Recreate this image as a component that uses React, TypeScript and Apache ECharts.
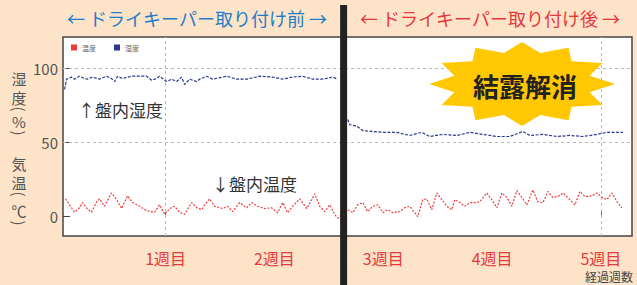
import React, { useEffect, useRef } from 'react';
import * as echarts from 'echarts';

// Temperature (°C) inside the panel, x = elapsed days
const TEMP_DAYS = [
  0.56, 0.82, 1.14, 1.46, 1.66, 1.98, 2.24, 2.56, 2.75, 3.07, 3.52, 3.85, 4.17, 4.55, 4.88, 5.33, 5.78, 6.29, 6.61, 6.94,
  7.26, 7.58, 7.9, 8.22, 8.67, 9.0, 9.32, 9.51, 9.83, 10.15, 10.67, 10.99, 11.31, 11.76, 12.21, 12.54, 12.92, 13.37, 13.82,
  14.21, 14.53, 14.85, 15.17, 15.63, 16.08, 16.4, 16.59, 16.91, 17.23, 17.56, 17.88, 18.07,
  18.71, 19.04, 19.36, 19.68, 20.0, 20.32, 20.65, 20.97, 21.29, 21.61, 22.06, 22.38, 22.71, 23.03, 23.22, 23.54, 23.8,
  24.12, 24.44, 24.77, 25.09, 25.41, 25.6, 25.92, 26.25, 26.57, 26.89, 27.21, 27.66, 27.98, 28.31, 28.63, 28.95, 29.27,
  29.59, 29.91, 30.24, 30.62, 30.94, 31.27, 31.59, 31.91, 32.23, 32.55, 33.0, 33.33, 33.65, 33.97, 34.42, 34.74, 35.06,
  35.39, 35.71, 36.03, 36.35,
];
const TEMP_VALUES = [
  12, 8, 3, 6, 9.5, 5, 3, 10, 12, 7, 16, 11.5, 5.5, 14, 9.5, 7, 4, 3, 8, 1.5,
  5.5, 7, 3, 1.5, 9.5, 6, 4.7, 8, 12, 7, 5.5, 7, 3.4, 9.5, 6, 9.5, 7, 5.5, 6,
  2.7, 9.5, 2.7, 7, 12, 5.5, 11.5, 15.5, 7, 3.4, 8, 1.5, -1,
  4.7, 2.7, 8, 9.5, 3.4, 7, 8, 2.7, 4.7, 2.7, 3.4, 6, 7, 2.7, 0, 11.5, 12,
  4.7, 16, 11.5, 7, 4.7, 11.5, 9.5, 7, 9.5, 9.5, 10, 16, 11.5, 6, 16, 13, 7,
  17.5, 13, 8, 18, 10, 9.5, 17, 13, 13.5, 16, 11.5, 8, 17, 13.5, 14, 16, 13,
  11.5, 16, 10, 6,
];

// Humidity (%) inside the panel
const HUM_DAYS = [
  0.5, 0.63, 0.95, 1.14, 1.46, 1.79, 1.98, 2.3, 2.75, 3.2, 3.52, 3.72, 3.91, 4.23, 4.55, 4.88, 5.33, 5.78, 6.1, 6.42,
  6.61, 7.06, 7.39, 7.71, 8.03, 8.22, 8.54, 9.0, 9.19, 9.64, 10.03, 10.93, 11.57, 12.21, 13.05, 13.89, 14.53, 15.17,
  15.82, 16.46, 17.11, 17.75, 18.07, 18.4,
  18.71, 18.84, 19.29, 19.68, 20.32, 20.97, 21.87, 22.71, 23.48, 23.99, 24.83, 25.73, 26.57, 27.4, 28.31, 29.14,
  29.98, 30.43, 31.27, 32.17, 33.0, 33.84, 34.74, 35.39, 36.03, 36.42,
];
const HUM_VALUES: (number | string)[] = [
  85.8, 92.6, 94, 92.6, 94.6, 93, 92.6, 94, 92.6, 94.6, 93, 91, 94.6, 93, 94, 94.6, 94.6, 94.6, 91.9, 93,
  94.6, 91, 92.6, 91, 94, 89, 92.6, 91, 92.6, 94.6, 92.6, 94.6, 92.6, 92.6, 94.6, 94, 92.6, 94,
  94.6, 92.6, 92.6, 94, 92.6, '-',
  65.5, 62, 61, 58, 57.4, 56.8, 56.8, 54.7, 56.8, 54, 55.4, 54.7, 56.8, 55.4, 54, 54,
  57.4, 54.7, 55.4, 54, 54.7, 54, 55.4, 56.8, 56.8, 56.8,
];

const WEEK_DAYS = [7, 14, 21, 28, 35];
const WEEK_LABELS = ['1週目', '2週目', '3週目', '4週目', '5週目'];
const Y_TICKS = [0, 50, 100];
const GRID_DAYS = [7, 35];
const GRID_VALUES = [50, 100];
const INSTALL_DAY = 18.45;

const FONT = '"Noto Sans CJK JP", "Noto Sans", sans-serif';

function starPoints(cx: number, cy: number, rx: number, ry: number, rxi: number, ryi: number, n: number) {
  const pts: number[][] = [];
  for (let i = 0; i < 2 * n; i++) {
    const a = (Math.PI * i) / n;
    const outer = i % 2 === 0;
    const r1 = outer ? rx : rxi;
    const r2 = outer ? ry : ryi;
    pts.push([cx + r1 * Math.sin(a), cy - r2 * Math.cos(a)]);
  }
  return pts;
}

function vText(chars: string[], ys: number[], x: number) {
  return chars.map((c, i) => {
    const paren = c === '(' || c === ')';
    return {
      type: 'text',
      x,
      y: ys[i],
      rotation: paren ? -Math.PI / 2 : 0,
      style: {
        text: c, fill: '#555', font: `15px ${FONT}`, lineHeight: 16,
        align: 'center', verticalAlign: 'middle',
      },
    };
  });
}

export default function App() {
  const ref = useRef<HTMLDivElement>(null);
  useEffect(() => {
    document.body.style.margin = '0';
    const chart = echarts.init(ref.current!, undefined, { renderer: 'svg' });
    const option: any = {
      animation: false,
      backgroundColor: '#FDE4C9',
      textStyle: { fontFamily: FONT },
      grid: {
        left: 63, top: 37, right: 5, bottom: 49, show: true,
        backgroundColor: '#fff', borderColor: '#444', borderWidth: 1.5,
      },
      legend: {
        left: 66, top: 39, itemWidth: 6, itemHeight: 6, itemGap: 18, icon: 'rect',
        textStyle: { fontSize: 7, color: '#666', fontFamily: FONT },
        data: ['温度', '湿度'],
      },
      xAxis: {
        type: 'value', min: 0.4, max: 37,
        axisLine: { show: false },
        splitLine: { show: false },
        axisTick: { show: true, inside: true, length: 5, customValues: GRID_DAYS, lineStyle: { color: '#666' } },
        axisLabel: {
          customValues: WEEK_DAYS,
          formatter: (v: number) => WEEK_LABELS[WEEK_DAYS.indexOf(Math.round(v))] ?? '',
          color: '#E8383D', fontSize: 16, margin: 14, fontFamily: FONT,
        },
      },
      yAxis: {
        type: 'value', min: -13, max: 121,
        axisLine: { show: false },
        splitLine: { show: false },
        axisTick: { show: true, inside: true, length: 7, customValues: Y_TICKS, lineStyle: { color: '#444' } },
        axisLabel: { customValues: Y_TICKS, color: '#555', fontSize: 15, margin: 5, fontFamily: FONT },
      },
      series: [
        {
          name: '温度', type: 'line', showSymbol: false, symbol: 'none',
          data: TEMP_DAYS.map((d, i) => [d, TEMP_VALUES[i]]),
          itemStyle: { color: '#EE3B3B' },
          lineStyle: { color: '#EE3B3B', width: 1.2, type: [2, 1.5] },
          z: 3,
        },
        {
          name: '湿度', type: 'line', showSymbol: false, symbol: 'none', connectNulls: false,
          data: HUM_DAYS.map((d, i) => [d, HUM_VALUES[i]]),
          itemStyle: { color: '#2B3990' },
          lineStyle: { color: '#2B3990', width: 1.2, type: [3, 1.5] },
          z: 3,
          markLine: {
            silent: true, symbol: 'none', label: { show: false },
            lineStyle: { color: '#bbb', type: [3, 3], width: 1 },
            data: [
              ...GRID_VALUES.map((v) => ({ yAxis: v })),
              ...GRID_DAYS.map((d) => ({ xAxis: d })),
            ],
            z: 1,
          },
        },
      ],
    };
    chart.setOption(option);
    const barX = chart.convertToPixel({ xAxisIndex: 0 }, INSTALL_DAY) as number;

    const graphics: any[] = [
      {
        type: 'text', x: 197, y: 18, z: 50,
        style: { text: '← ドライキーパー取り付け前 →', fill: '#1F7DC8', font: `18px ${FONT}`, align: 'center', verticalAlign: 'middle' },
      },
      {
        type: 'text', x: 490, y: 18, z: 50,
        style: { text: '← ドライキーパー取り付け後 →', fill: '#E8383D', font: `18px ${FONT}`, align: 'center', verticalAlign: 'middle' },
      },
      {
        type: 'rect', z: 100,
        shape: { x: barX - 3.5, y: 5, width: 7, height: 290 },
        style: { fill: '#222' },
      },
      {
        type: 'polygon', z: 60,
        shape: { points: starPoints(522, 84, 93, 42, 70, 32, 12) },
        style: { fill: '#FFC800' },
      },
      {
        type: 'text', x: 525, y: 85, z: 61,
        style: { text: '結露解消', fill: '#222', font: `bold 26px ${FONT}`, align: 'center', verticalAlign: 'middle' },
      },
      {
        type: 'text', x: 78, y: 109, z: 50,
        style: { text: '↑盤内湿度', fill: '#333', font: `17px ${FONT}`, align: 'left', verticalAlign: 'middle' },
      },
      {
        type: 'text', x: 212, y: 183, z: 50,
        style: { text: '↓盤内温度', fill: '#333', font: `17px ${FONT}`, align: 'left', verticalAlign: 'middle' },
      },
      {
        type: 'text', x: 633, y: 276.5, z: 50,
        style: { text: '経過週数', fill: '#444', font: `12px ${FONT}`, lineHeight: 13, align: 'right', verticalAlign: 'middle' },
      },
      ...vText(['湿', '度', '(', '%', ')'], [78, 97, 109, 121, 133], 19),
      ...vText(['気', '温', '(', '℃', ')'], [163, 182, 194, 210, 223], 19),
    ];
    chart.setOption({ graphic: graphics });
    return () => chart.dispose();
  }, []);
  return <div ref={ref} style={{ width: 637, height: 285 }} />;
}
